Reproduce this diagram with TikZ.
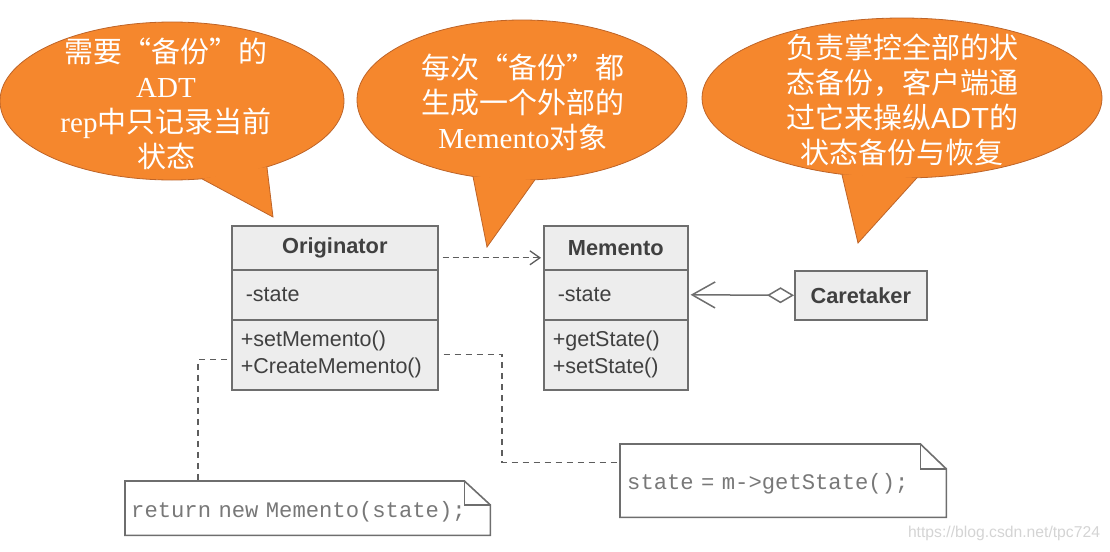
\documentclass[tikz,border=0pt]{standalone}
\usepackage{fontspec}
\setmainfont{Liberation Serif}
\setsansfont{Liberation Sans}
\setmonofont{Liberation Mono}
\newfontfamily\cjk{Noto Sans CJK SC}
\usetikzlibrary{arrows.meta,calc}
\definecolor{bubor}{RGB}{245,135,45}
\definecolor{bubedge}{RGB}{190,100,40}
\definecolor{umlgray}{RGB}{110,110,110}
\definecolor{umlfill}{RGB}{237,237,237}
\definecolor{umltext}{RGB}{64,64,64}
\definecolor{notetext}{RGB}{120,120,120}
\definecolor{wmcol}{RGB}{212,212,212}
\tikzset{
  bubble/.style={fill=bubor, draw=bubedge, line width=0.8pt},
  tailfill/.style={fill=bubor},
  tailline/.style={draw=bubedge, line width=0.8pt, line join=miter},
  bubtext/.style={text=white, align=center, inner sep=0pt, font=\fontsize{29pt}{35pt}\selectfont},
  umlbox/.style={draw=umlgray, fill=umlfill, line width=1.6pt, rectangle, inner sep=0pt, anchor=north west,
    text=umltext, font=\sffamily\fontsize{21.5pt}{27pt}\selectfont},
  umlhead/.style={umlbox, font=\sffamily\bfseries\fontsize{21.8pt}{25pt}\selectfont},
  notebox/.style={rectangle, inner sep=0pt, anchor=north west, align=left, text=notetext,
    font=\ttfamily\fontsize{22.2pt}{25pt}\selectfont},
  noteline/.style={draw=umlgray, line width=1.6pt, line join=miter},
  dep/.style={draw=umlgray!85!black, line width=1.3pt, dash pattern=on 6pt off 4pt, -{Straight Barb[length=10pt,width=14pt]}},
  assoc/.style={draw=umlgray, line width=1.5pt, {Diamond[open,length=27pt,width=16pt]}-{Straight Barb[length=23pt,width=26pt]}, shorten >=2pt},
  notelink/.style={draw=umlgray!85!black, line width=1.3pt, dash pattern=on 6pt off 5pt},
  wm/.style={text=wmcol, inner sep=0pt, font=\sffamily\fontsize{15.7pt}{18pt}\selectfont}
}
\begin{document}
\begin{tikzpicture}[x=1pt,y=-1pt]
\useasboundingbox (0,0) rectangle (1110,551);

% ---- bubble 1
\coordinate (e1) at (172,101);
\coordinate (t1tip) at (273,217);
\filldraw[bubble] (e1) ellipse [x radius=172pt, y radius=79pt];
\coordinate (t1a) at ($(e1)+(-80:172pt and 79pt)$);
\coordinate (t1b) at ($(e1)+(-56.5:172pt and 79pt)$);
\fill[tailfill] (t1a) -- (t1tip) -- (t1b) -- cycle;
\draw[tailline] (t1a) -- (t1tip) -- (t1b);
\node[bubtext] (txt1) at (166,104) {{\cjk 需要“备份”的}\\ADT\\rep{\cjk 中只记录当前}\\{\cjk 状态}};

% ---- bubble 2
\coordinate (e2) at (522,100);
\coordinate (t2tip) at (487,247);
\filldraw[bubble] (e2) ellipse [x radius=165pt, y radius=80pt];
\coordinate (t2a) at ($(e2)+(-107.3:165pt and 80pt)$);
\coordinate (t2b) at ($(e2)+(-85.5:165pt and 80pt)$);
\fill[tailfill] (t2a) -- (t2tip) -- (t2b) -- cycle;
\draw[tailline] (t2a) -- (t2tip) -- (t2b);
\node[bubtext] (txt2) at (523,102) {{\cjk 每次“备份”都}\\{\cjk 生成一个外部的}\\Memento{\cjk 对象}};

% ---- bubble 3
\coordinate (e3) at (902,98);
\coordinate (t3tip) at (858,243);
\filldraw[bubble] (e3) ellipse [x radius=200pt, y radius=80pt];
\coordinate (t3a) at ($(e3)+(-107.5:200pt and 80pt)$);
\coordinate (t3b) at ($(e3)+(-85.7:200pt and 80pt)$);
\fill[tailfill] (t3a) -- (t3tip) -- (t3b) -- cycle;
\draw[tailline] (t3a) -- (t3tip) -- (t3b);
\node[bubtext] (txt3) at (902,100) {{\cjk 负责掌控全部的状}\\{\cjk 态备份，客户端通}\\{\cjk 过它来操纵}{\sffamily ADT}{\cjk 的}\\{\cjk 状态备份与恢复}};

% ---- Originator
\node[umlhead, minimum width=206pt, minimum height=44pt] (orighead) at (231,225) {Originator};
\node[umlbox, minimum width=206pt, minimum height=50pt, text width=178pt, inner xsep=14pt, align=left] (origattr) at (231,269) {-state};
\node[umlbox, minimum width=206pt, minimum height=70pt, text width=188pt, inner xsep=9pt, align=left] (origmeth) at (231,319) {+setMemento()\\+CreateMemento()};

% ---- Memento
\node[umlhead, minimum width=144pt, minimum height=44pt] (memhead) at (543,225) {Memento};
\node[umlbox, minimum width=144pt, minimum height=50pt, text width=116pt, inner xsep=14pt, align=left] (memattr) at (543,269) {-state};
\node[umlbox, minimum width=144pt, minimum height=70pt, text width=126pt, inner xsep=9pt, align=left] (memmeth) at (543,319) {+getState()\\+setState()};

% ---- Caretaker
\node[umlhead, minimum width=132pt, minimum height=49pt] (care) at (794,270) {Caretaker};

% ---- connectors
\draw[dep] ([xshift=4pt,yshift=-10pt]orighead.east) -- ([xshift=-2pt,yshift=-10pt]memhead.west);
\draw[assoc] (care.west) -- (memattr.east);

% ---- notes
\node[notebox, minimum width=365pt, minimum height=54pt, text width=353pt, inner xsep=6pt] (note1) at (125,481) {\raisebox{-3.5pt}[\height][\depth]{return new Memento(state);}};
\draw[noteline] (note1.north west) -- ([xshift=-26pt]note1.north east) -- ([yshift=-24pt]note1.north east) -- (note1.south east) -- (note1.south west) -- cycle;
\draw[noteline] ([xshift=-26pt]note1.north east) -- ([xshift=-26pt,yshift=-24pt]note1.north east) -- ([yshift=-24pt]note1.north east);

\node[notebox, minimum width=326pt, minimum height=73pt, text width=312pt, inner xsep=7pt] (note2) at (620,444) {\raisebox{-3pt}[\height][\depth]{state = m->getState();}};
\draw[noteline] (note2.north west) -- ([xshift=-26pt]note2.north east) -- ([yshift=-25pt]note2.north east) -- (note2.south east) -- (note2.south west) -- cycle;
\draw[noteline] ([xshift=-26pt]note2.north east) -- ([xshift=-26pt,yshift=-25pt]note2.north east) -- ([yshift=-25pt]note2.north east);

\draw[notelink] ([xshift=-4pt,yshift=-5pt]origmeth.west) -| ([xshift=73pt]note1.north west);
\draw[notelink] ([xshift=5pt]origmeth.east) -| ([xshift=-118pt,yshift=18pt]note2.west) -- ([yshift=18pt]note2.west);

% ---- watermark
\node[wm] (wmark) at (1004,533) {https://blog.csdn.net/tpc724};
\end{tikzpicture}
\end{document}
